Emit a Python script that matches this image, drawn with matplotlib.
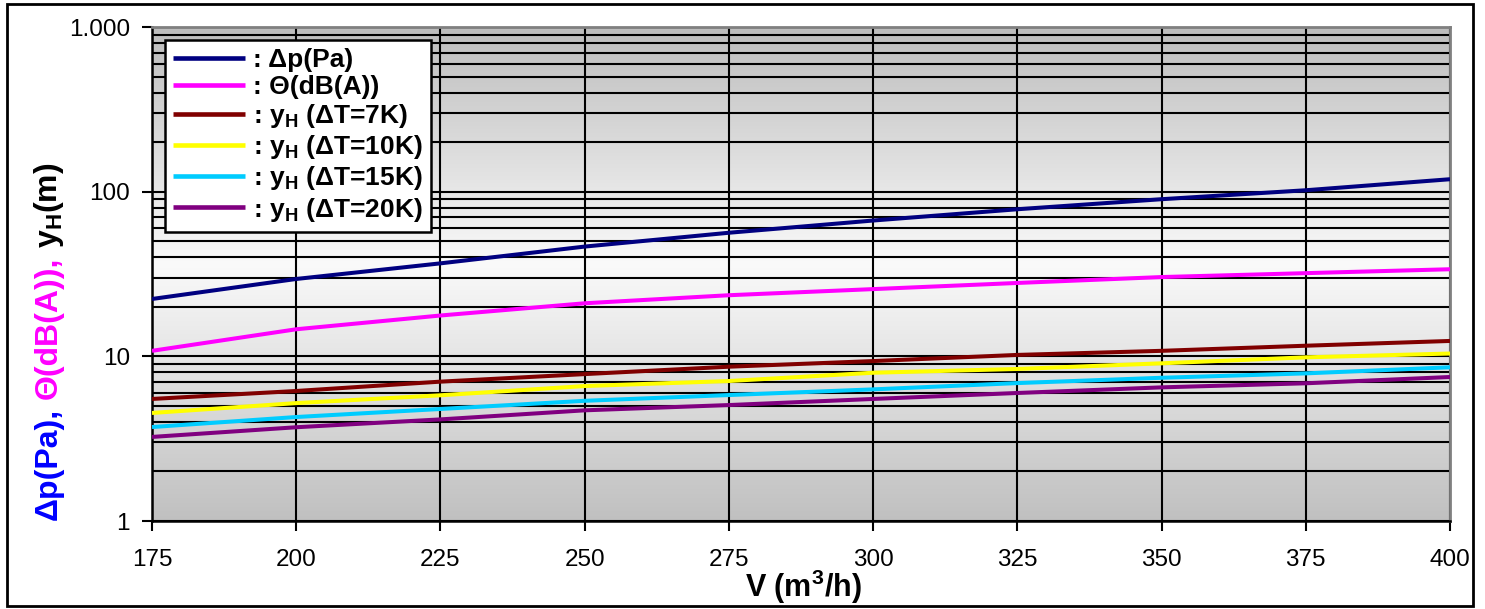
import numpy as np
import matplotlib
matplotlib.use("Agg")
import matplotlib.pyplot as plt
from matplotlib.ticker import FixedLocator, LogLocator, NullFormatter
from matplotlib.patches import Rectangle

plt.rcParams['font.family'] = ['Liberation Sans', 'DejaVu Sans']
plt.rcParams['mathtext.fontset'] = 'custom'
plt.rcParams['mathtext.rm'] = 'Liberation Sans'
plt.rcParams['mathtext.bf'] = 'Liberation Sans:bold'

# volume flow V (m3/h)
flow = [175, 200, 225, 250, 275, 300, 325, 350, 375, 400]

dp_pa = [22.3, 29.5, 36.7, 46.4, 56.3, 66.8, 78.2, 90.0, 102.0, 119.0]
theta_dba = [10.8, 14.6, 17.7, 21.0, 23.5, 25.6, 27.9, 30.3, 32.0, 33.8]
yh_7k = [5.51, 6.16, 7.02, 7.8, 8.65, 9.36, 10.2, 10.8, 11.6, 12.4]
yh_10k = [4.53, 5.2, 5.8, 6.6, 7.08, 7.95, 8.38, 9.07, 9.86, 10.4]
yh_15k = [3.72, 4.28, 4.79, 5.37, 5.82, 6.3, 6.88, 7.41, 7.88, 8.58]
yh_20k = [3.24, 3.71, 4.14, 4.7, 5.06, 5.51, 5.99, 6.48, 6.86, 7.49]

series = [
    (dp_pa, '#000080', ': Δp(Pa)'),
    (theta_dba, '#ff00ff', ': Θ(dB(A))'),
    (yh_7k, '#800000', r': y$_\mathbf{H}$ (ΔT=7K)'),
    (yh_10k, '#ffff00', r': y$_\mathbf{H}$ (ΔT=10K)'),
    (yh_15k, '#00ccff', r': y$_\mathbf{H}$ (ΔT=15K)'),
    (yh_20k, '#800080', r': y$_\mathbf{H}$ (ΔT=20K)'),
]

x_ticks = [175, 200, 225, 250, 275, 300, 325, 350, 375, 400]
y_ticks = [1, 10, 100, 1000]
y_ticklabels = ['1', '10', '100', '1.000']

W, H = 1485, 609
fig = plt.figure(figsize=(W / 100, H / 100), dpi=100)
ax = fig.add_axes([152 / W, 1 - 521 / H, 1298 / W, 494 / H])

# grey -> white -> grey background like the Excel plot area
fr = np.linspace(0, 1, 300)
gray = np.interp(fr, [0, 0.52, 1], [0.753, 0.98, 0.74])
img = np.dstack([gray[::-1, None]] * 3)
ax.imshow(img, extent=(0, 1, 0, 1), transform=ax.transAxes, aspect='auto',
          zorder=0, interpolation='bilinear')

for vals, col, lab in series:
    ax.plot(flow, vals, color=col, lw=2.9, label=lab, zorder=3,
            solid_capstyle='butt')

ax.set_yscale('log')
ax.set_xlim(175, 400)
ax.set_ylim(1, 1000)
ax.xaxis.set_major_locator(FixedLocator(x_ticks))
ax.yaxis.set_major_locator(FixedLocator(y_ticks))
ax.set_yticklabels(y_ticklabels)
ax.yaxis.set_minor_locator(LogLocator(base=10, subs=np.arange(2, 10)))
ax.yaxis.set_minor_formatter(NullFormatter())

ax.grid(True, which='both', axis='y', color='black', lw=1.5, zorder=1)
ax.grid(True, which='major', axis='x', color='black', lw=1.5, zorder=1)
ax.tick_params(axis='both', which='major', direction='out', length=7,
               width=1.5, labelsize=17.5, color='black')
ax.tick_params(axis='y', which='major', pad=9)
ax.tick_params(axis='x', which='major', pad=13)
ax.tick_params(axis='y', which='minor', length=0)

for side in ['left', 'bottom']:
    ax.spines[side].set_color('black')
    ax.spines[side].set_linewidth(1.8)
for side in ['top', 'right']:
    ax.spines[side].set_color('#808080')
    ax.spines[side].set_linewidth(2)

leg = ax.legend(loc='upper left', bbox_to_anchor=(0.010, 0.974),
                borderaxespad=0, prop={'weight': 'bold', 'size': 19},
                handlelength=2.75, handletextpad=0.3, labelspacing=0.12,
                borderpad=0.3, fancybox=False, framealpha=1,
                edgecolor='black')
leg.get_frame().set_linewidth(1.8)
leg.set_zorder(5)
for h in leg.get_lines():
    h.set_linewidth(3.3)

# x axis title
fig.text(803 / W, 12 / H, r'V (m$^\mathbf{3}$/h)', ha='center',
         va='baseline', fontsize=22, fontweight='bold')

# multi-coloured y axis title, built piece by piece from the bottom
renderer = fig.canvas.get_renderer()
pieces = [('Δp(Pa),', '#0000ff'), ('Θ(dB(A)),', '#ff00ff'),
          (r'y$_\mathbf{H}$(m)', 'black')]
ypos = H - 520
for txt, col in pieces:
    t = fig.text(57 / W, ypos / H, txt, rotation=90, rotation_mode='anchor',
                 ha='left', va='baseline', color=col, fontsize=23,
                 fontweight='bold')
    bb = t.get_window_extent(renderer)
    ypos = bb.y1 + 9

fig.patches.append(Rectangle((7 / W, 3 / H), 1466 / W, 602 / H,
                             transform=fig.transFigure, fill=False,
                             ec='black', lw=2))

fig.savefig('out.png', dpi=100)
